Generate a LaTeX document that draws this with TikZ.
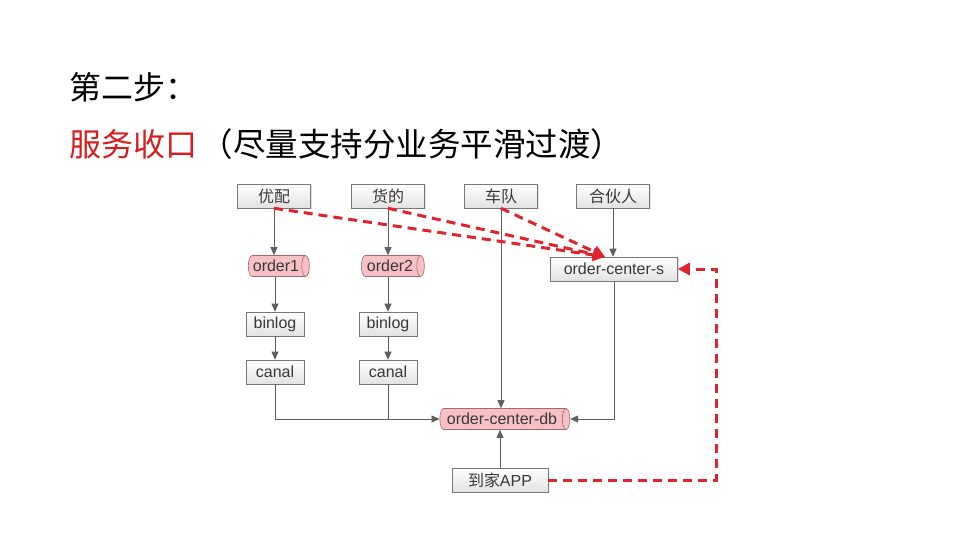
\documentclass[tikz,border=0pt]{standalone}
\usepackage{fontspec}
\setmainfont{Liberation Sans}
\newfontfamily\cjk{Noto Sans CJK SC}
\usetikzlibrary{shapes.geometric,arrows.meta,shadows}
\definecolor{boxfill}{RGB}{226,226,226}
\definecolor{boxdraw}{RGB}{120,120,120}
\definecolor{dbfill}{RGB}{246,192,197}
\definecolor{dbdraw}{RGB}{160,105,110}
\definecolor{dred}{RGB}{225,35,45}
\definecolor{lnk}{RGB}{95,95,95}
\definecolor{titlered}{RGB}{215,30,30}
\begin{document}
\begin{tikzpicture}[x=1pt,y=-1pt,
  box/.style={draw=boxdraw, top color=white, bottom color=boxfill, minimum height=24pt,
    inner sep=0pt, font=\fontsize{16}{18}\selectfont, text=black!78, line width=0.6pt,
    drop shadow={shadow xshift=1pt, shadow yshift=-1pt, opacity=0.25}},
  db/.style={cylinder, shape aspect=0.55, draw=dbdraw, fill=dbfill, minimum width=21pt,
    inner sep=1pt, font=\fontsize{16}{18}\selectfont, text=black!78, line width=0.6pt},
  link/.style={draw=lnk, line width=0.8pt, -{Triangle[length=8pt,width=7pt]}},
  plainlink/.style={draw=lnk, line width=0.8pt},
  redlink/.style={draw=dred, line width=3pt, dash pattern=on 9pt off 6pt,
    -{Triangle[length=12pt,width=12pt]}},
  ttl/.style={anchor=west, inner sep=0pt}
]
\useasboundingbox[fill=white] (0,0) rectangle (960,540);

% titles
\node[ttl, font=\cjk\fontsize{32}{36}\selectfont] (t1) at (69,87) {第二步：};
\node[ttl, font=\cjk\fontsize{32}{36}\selectfont, text=titlered] (t2) at (69,144) {服务收口};
\node[ttl, font=\cjk\fontsize{32.5}{38}\selectfont] (t3) at ([xshift=3pt]t2.east) {（尽量支持分业务平滑过渡）};

% nodes
\node[box, minimum width=73pt] (yp) at (274,196) {\cjk 优配};
\node[box, minimum width=73pt] (hd) at (388,196) {\cjk 货的};
\node[box, minimum width=73pt] (cd) at (501,196) {\cjk 车队};
\node[box, minimum width=73pt] (hh) at (613,196) {\cjk 合伙人};
\node[db, minimum height=61pt] (o1) at (276,266) {order1};
\node[db, minimum height=63pt] (o2) at (390,266) {order2};
\node[box, minimum width=127pt] (ocs) at (614,269) {order-center-s};
\node[box, minimum width=58pt] (b1) at (275,324) {binlog};
\node[box, minimum width=58pt] (b2) at (388,324) {binlog};
\node[box, minimum width=58pt] (c1) at (275,372) {canal};
\node[box, minimum width=58pt] (c2) at (388,372) {canal};
\node[db, minimum height=130pt] (db) at (502,419) {order-center-db};
\node[box, minimum width=96pt] (app) at (500,480) {{\cjk 到家}APP};

% grey connectors
\draw[link] (yp.south) -- (yp.south |- o1.north);
\draw[link] (hd.south) -- (hd.south |- o2.north);
\draw[link] (o1.south -| b1.north) -- (b1.north);
\draw[link] (o2.south -| b2.north) -- (b2.north);
\draw[link] (b1) -- (c1);
\draw[link] (b2) -- (c2);
\draw[link] (c1.south) |- (db.west);
\draw[plainlink] (c2.south) -- (c2.south |- db.west);
\draw[link] (cd.south) -- (cd.south |- db.north);
\draw[link] (hh.south) -- (hh.south |- ocs.north);
\draw[link] (ocs.south) |- (db.east);
\draw[link] (app.north) -- (app.north |- db.south);

% red dashed connectors
\coordinate (tip) at ([xshift=-9pt]ocs.north);
\coordinate (rc) at (716,269);
\draw[redlink] (yp.south) -- (tip);
\draw[redlink] (hd.south) -- (tip);
\draw[redlink] (cd.south) -- (tip);
\draw[redlink] (app.east) -| (rc) -- (ocs.east);
\end{tikzpicture}
\end{document}
